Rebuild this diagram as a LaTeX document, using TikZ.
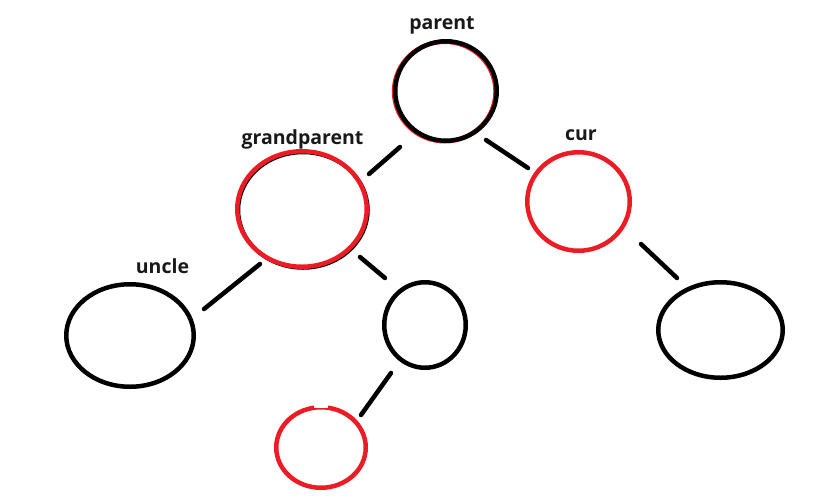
\documentclass[tikz,border=0pt]{standalone}
\usepackage{fontspec}
\setmainfont{Open Sans}
\usetikzlibrary{shapes.geometric}
\definecolor{hred}{RGB}{237,28,36}
\tikzset{
  tnode/.style={ellipse, inner sep=0pt, line width=4.5pt},
  blacknode/.style={tnode, draw=black},
  rednode/.style={tnode, draw=hred},
  edge/.style={line width=4.5pt, line cap=round, black},
  lbl/.style={anchor=base, inner sep=0pt, font=\fontsize{19.5}{22}\selectfont\bfseries, text=black!90},
}
\begin{document}
\begin{tikzpicture}[x=1pt,y=-1pt]
\useasboundingbox (0,0) rectangle (814,499);
% underlays (hand-drawn overlaps)
\node[tnode, draw=hred, minimum width=101.5pt, minimum height=99.5pt] at (444.8,91.5) {};
\node[tnode, draw=black, line width=4pt, minimum width=129.5pt, minimum height=115.5pt] at (303,210) {};
% nodes
\node[blacknode, minimum width=101.5pt, minimum height=99.5pt] (parent) at (446,91) {};
\node[rednode, minimum width=129.5pt, minimum height=115.5pt] (gp) at (302,209) {};
\node[rednode, minimum width=102.5pt, minimum height=98.5pt] (cur) at (578.5,201.5) {};
\node[blacknode, minimum width=127.5pt, minimum height=102.5pt] (uncle) at (130,335.5) {};
\node[blacknode, minimum width=81.5pt, minimum height=85.5pt] (mid) at (425,325) {};
\node[blacknode, minimum width=124.5pt, minimum height=95.5pt] (right) at (720.5,330) {};
\node[rednode, minimum width=89.5pt, minimum height=80.5pt] (bottom) at (321,447.5) {};
\fill[white] (314,403) rectangle (328,408);
% labels
\node[lbl] (lparent) at (442,29) {parent};
\node[lbl] (lgp) at (302.5,144) {grandparent};
\node[lbl] (lcur) at (581,140) {cur};
\node[lbl] (luncle) at (162.5,273) {uncle};
% connector end points
\coordinate (pg1) at (400,147);
\coordinate (pg2) at (369,174);
\coordinate (pc1) at (486,140);
\coordinate (pc2) at (528,168);
\coordinate (gu1) at (260,264);
\coordinate (gu2) at (204,309);
\coordinate (gm1) at (360,257);
\coordinate (gm2) at (385,278);
\coordinate (cr1) at (641,244);
\coordinate (cr2) at (677,278);
\coordinate (mb1) at (391,373);
\coordinate (mb2) at (361,415);
\draw[edge] (pg1) -- (pg2);
\draw[edge] (pc1) -- (pc2);
\draw[edge] (gu1) -- (gu2);
\draw[edge] (gm1) -- (gm2);
\draw[edge] (cr1) -- (cr2);
\draw[edge] (mb1) -- (mb2);
\end{tikzpicture}
\end{document}
